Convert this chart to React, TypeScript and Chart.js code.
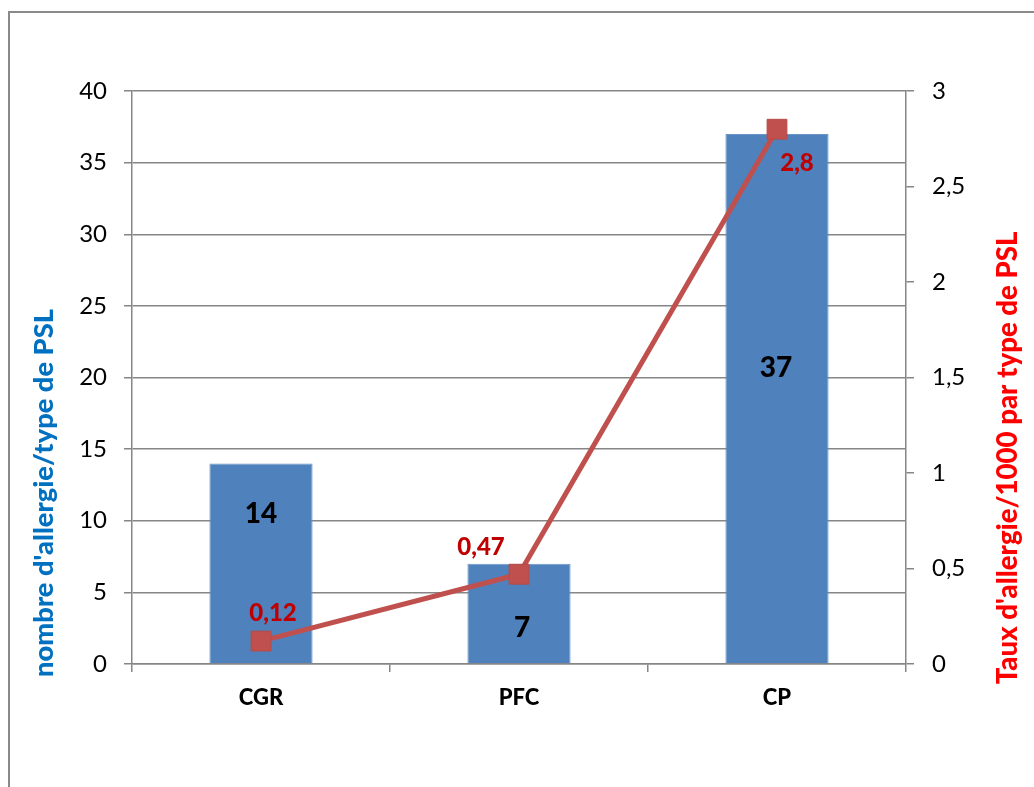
import React, { useEffect, useRef } from "react";
import { Chart, registerables } from "chart.js";

Chart.register(...registerables);

const categories = ["CGR", "PFC", "CP"];
const allergyCounts = [14, 7, 37];
const allergyRates = [0.12, 0.47, 2.8];
const leftTitle = "nombre d'allergie/type de PSL";
const rightTitle = "Taux d'allergie/1000 par type de PSL";

// label placement offsets (pixels) relative to bar middle / line point
const barLabelOffsets = [[0, -49], [3, 14], [-1, -31]];
const lineLabelOffsets = [[12, -28], [-38, -27], [20, 34]];

const FONT = "Lato, 'Open Sans', sans-serif";
const GRID = "#868686";
const HEAVY = "900";

const fmt = (v: number) => String(v).replace(".", ",");

export default function App() {
  const ref = useRef<HTMLCanvasElement | null>(null);

  useEffect(() => {
    document.body.style.margin = "0";
    const canvas = ref.current!;
    const framePlugin = {
      id: "frame",
      beforeDraw(chart: any) {
        const ctx = chart.ctx;
        ctx.save();
        ctx.fillStyle = "#ffffff";
        ctx.fillRect(0, 0, chart.width, chart.height);
        ctx.strokeStyle = "#8a8a8a";
        ctx.lineWidth = 2;
        ctx.strokeRect(9, 12, 1200, 1000);
        ctx.restore();
      },
    };
    const titlePlugin = {
      id: "titles",
      afterDraw(chart: any) {
        const ctx = chart.ctx;
        const drawTitle = (text: string, cx: number, cy: number, len: number, color: string) => {
          ctx.save();
          ctx.font = `${HEAVY} 24px ${FONT}`;
          const w = ctx.measureText(text).width;
          const size = (24 * len) / w;
          ctx.font = `${HEAVY} ${size}px ${FONT}`;
          ctx.fillStyle = color;
          ctx.translate(cx, cy);
          ctx.rotate(-Math.PI / 2);
          ctx.textAlign = "center";
          ctx.textBaseline = "middle";
          ctx.fillText(text, 0, 0);
          ctx.restore();
        };
        drawTitle(leftTitle, 44, 493, 368, "#0070C0");
        drawTitle(rightTitle, 1008, 458, 453, "#FF0000");
      },
    };
    const labelPlugin = {
      id: "dlabels",
      afterDatasetsDraw(chart: any) {
        const ctx = chart.ctx;
        ctx.save();
        ctx.textAlign = "center";
        ctx.textBaseline = "middle";
        const barMeta = chart.getDatasetMeta(0);
        ctx.font = `${HEAVY} 28px ${FONT}`;
        ctx.fillStyle = "#000000";
        barMeta.data.forEach((el: any, i: number) => {
          const mid = (el.y + el.base) / 2;
          ctx.fillText(fmt(allergyCounts[i]), el.x + barLabelOffsets[i][0], mid + barLabelOffsets[i][1]);
        });
        const lineMeta = chart.getDatasetMeta(1);
        ctx.font = `${HEAVY} 24px ${FONT}`;
        ctx.fillStyle = "#C00000";
        lineMeta.data.forEach((el: any, i: number) => {
          ctx.fillText(fmt(allergyRates[i]), el.x + lineLabelOffsets[i][0], el.y + lineLabelOffsets[i][1]);
        });
        ctx.restore();
      },
    };

    const chart = new Chart(canvas, {
      type: "bar",
      data: {
        labels: categories,
        datasets: [
          {
            type: "bar",
            label: "nombre",
            data: allergyCounts,
            backgroundColor: "#4F81BD",
            borderColor: "#6a95c8",
            borderWidth: 1,
            yAxisID: "y",
            barPercentage: 0.4,
            categoryPercentage: 1,
            order: 2,
          },
          {
            type: "line",
            label: "taux",
            data: allergyRates,
            borderColor: "#C0504D",
            backgroundColor: "#C0504D",
            borderWidth: 5,
            pointStyle: "rect",
            pointRadius: 14,
            pointBorderWidth: 1,
            pointBorderColor: "#B84A47",
            pointBackgroundColor: "#C0504D",
            yAxisID: "y1",
            order: 1,
          } as any,
        ],
      },
      options: {
        responsive: false,
        animation: false,
        layout: { padding: { top: 91, left: 0, right: 0, bottom: 0 } },
        plugins: {
          legend: { display: false },
          tooltip: { enabled: false },
          title: { display: false },
        },
        scales: {
          x: {
            type: "category",
            offset: true,
            grid: {
              offset: true,
              drawOnChartArea: false,
              drawTicks: true,
              tickLength: 8,
              color: GRID,
              lineWidth: 1.5,
            },
            border: { color: GRID, width: 1.5 },
            ticks: {
              color: "#000000",
              font: { family: FONT, size: 22, weight: HEAVY },
              padding: 13,
            },
            afterFit(scale: any) {
              scale.height = 123;
            },
          },
          y: {
            position: "left",
            min: 0,
            max: 40,
            ticks: {
              stepSize: 5,
              color: "#000000",
              font: { family: FONT, size: 24 },
              padding: 17,
            },
            grid: { color: GRID, lineWidth: 1.5, tickLength: 8 },
            border: { color: GRID, width: 1.5 },
            afterFit(scale: any) {
              scale.width = 132;
            },
          },
          y1: {
            position: "right",
            min: 0,
            max: 3,
            ticks: {
              stepSize: 0.5,
              color: "#000000",
              font: { family: FONT, size: 24 },
              padding: 18,
              callback: (v: any) => fmt(Number(v)),
            },
            grid: { drawOnChartArea: false, color: GRID, lineWidth: 1.5, tickLength: 8 },
            border: { color: GRID, width: 1.5 },
            afterFit(scale: any) {
              scale.width = 128;
            },
          },
        },
      } as any,
      plugins: [framePlugin, titlePlugin, labelPlugin],
    });
    return () => chart.destroy();
  }, []);

  return (
    <canvas
      ref={ref}
      width={1034}
      height={787}
      style={{ position: "absolute", left: 0, top: 0, display: "block" }}
    />
  );
}
